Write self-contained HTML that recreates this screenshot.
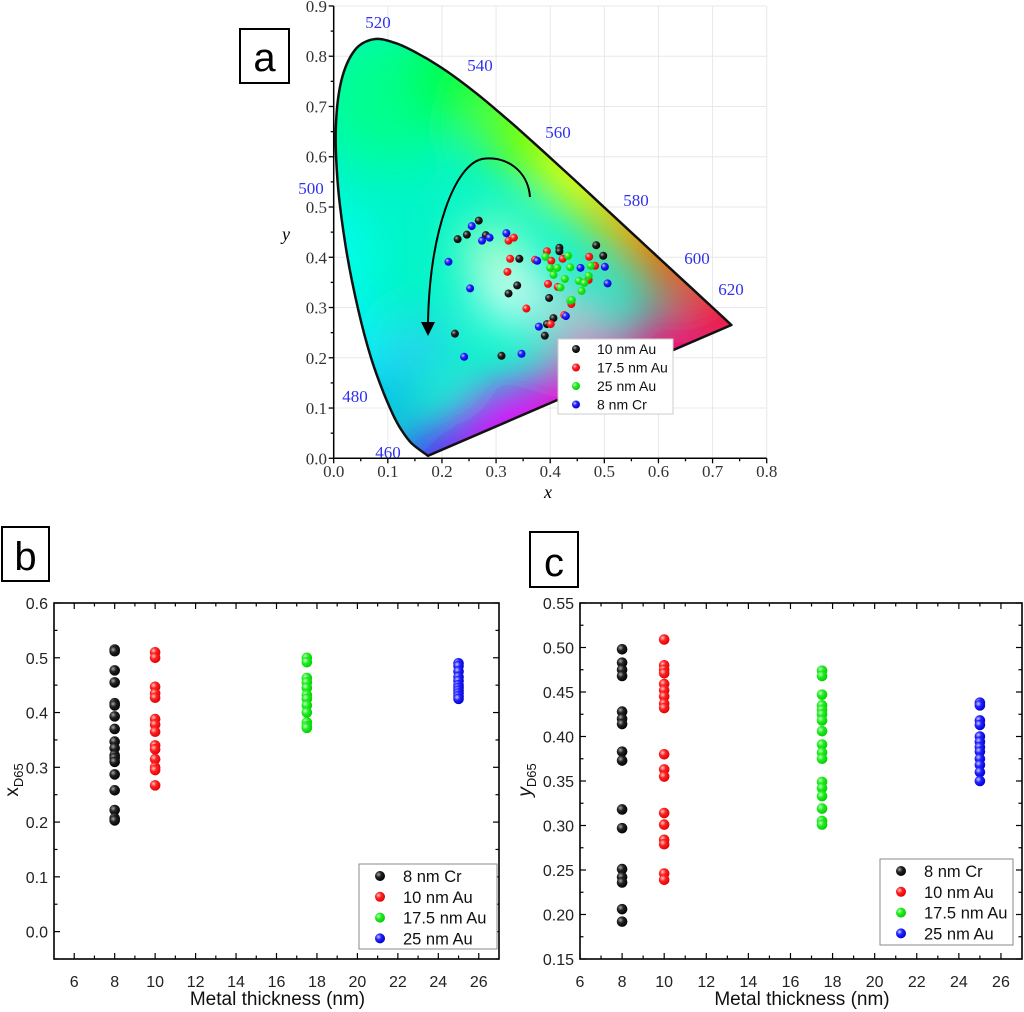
<!DOCTYPE html>
<html><head><meta charset="utf-8">
<style>
body{margin:0;background:#fff;}
svg{display:block;font-family:"Liberation Sans",sans-serif;}
.serif{font-family:"Liberation Serif",serif;}
</style></head>
<body>
<svg id="fig" width="1024" height="1012" viewBox="0 0 1024 1012" xmlns="http://www.w3.org/2000/svg">
<defs>
<filter id="blur" x="-50%" y="-50%" width="200%" height="200%"><feGaussianBlur stdDeviation="26"/></filter>
<clipPath id="locusClip"><path id="locusClipPath" d=""/></clipPath>
<radialGradient id="g-black" cx="0.35" cy="0.35" r="0.7"><stop offset="0" stop-color="#aaa"/><stop offset="0.4" stop-color="#222"/><stop offset="1" stop-color="#000"/></radialGradient>
<radialGradient id="g-red" cx="0.35" cy="0.35" r="0.7"><stop offset="0" stop-color="#fcc"/><stop offset="0.4" stop-color="#f22"/><stop offset="1" stop-color="#d00"/></radialGradient>
<radialGradient id="g-green" cx="0.35" cy="0.35" r="0.7"><stop offset="0" stop-color="#cfc"/><stop offset="0.4" stop-color="#2e2"/><stop offset="1" stop-color="#0c0"/></radialGradient>
<radialGradient id="g-blue" cx="0.35" cy="0.35" r="0.7"><stop offset="0" stop-color="#ccf"/><stop offset="0.4" stop-color="#22f"/><stop offset="1" stop-color="#00c"/></radialGradient>
</defs>
<g id="panelA"></g>
<g id="panelB"></g>
<g id="panelC"></g>
<rect x="240" y="29" width="49" height="54" fill="#fff" stroke="#000" stroke-width="2"/>
<text x="264.5" y="71" font-size="40" text-anchor="middle">a</text>
<rect x="2" y="527" width="47" height="54" fill="#fff" stroke="#000" stroke-width="2"/>
<text x="25.5" y="570" font-size="40" text-anchor="middle">b</text>
<rect x="530" y="532" width="48" height="55" fill="#fff" stroke="#000" stroke-width="2"/>
<text x="554" y="576" font-size="40" text-anchor="middle">c</text>
</svg>
<script>
// ---------- Panel A data ----------
const aBlackX=[0.268,0.229,0.246,0.281,0.343,0.417,0.417,0.485,0.498,0.339,0.323,0.398,0.406,0.394,0.390,0.224,0.310];
const aBlackY=[0.473,0.436,0.445,0.444,0.397,0.419,0.412,0.424,0.403,0.344,0.328,0.319,0.279,0.267,0.244,0.248,0.204];
const aRedX=[0.323,0.333,0.326,0.321,0.372,0.394,0.402,0.423,0.472,0.483,0.471,0.396,0.414,0.439,0.426,0.401,0.356];
const aRedY=[0.433,0.439,0.397,0.371,0.395,0.412,0.393,0.397,0.401,0.383,0.355,0.347,0.341,0.307,0.285,0.267,0.298];
const aGreenX=[0.391,0.433,0.400,0.413,0.437,0.406,0.427,0.453,0.463,0.471,0.475,0.419,0.458,0.437,0.440];
const aGreenY=[0.401,0.403,0.379,0.379,0.380,0.365,0.357,0.353,0.349,0.363,0.383,0.340,0.333,0.314,0.315];
const aBlueX=[0.255,0.274,0.288,0.319,0.376,0.212,0.252,0.456,0.501,0.506,0.429,0.379,0.241,0.347];
const aBlueY=[0.462,0.433,0.439,0.448,0.393,0.391,0.338,0.379,0.381,0.348,0.283,0.262,0.202,0.208];
const aXTicks=["0.0","0.1","0.2","0.3","0.4","0.5","0.6","0.7","0.8"];
const aYTicks=["0.0","0.1","0.2","0.3","0.4","0.5","0.6","0.7","0.8","0.9"];
const locusX=[0.1741,0.1440,0.1241,0.1096,0.0913,0.0687,0.0454,0.0235,0.0082,0.0039,0.0139,0.0389,0.0743,0.1142,0.1547,0.1929,0.2296,0.2658,0.3016,0.3373,0.3731,0.4087,0.4441,0.4788,0.5125,0.5448,0.5752,0.6029,0.6270,0.6658,0.6915,0.7190,0.7347];
const locusY=[0.0050,0.0297,0.0578,0.0868,0.1327,0.2007,0.2950,0.4127,0.5384,0.6548,0.7502,0.8120,0.8338,0.8262,0.8059,0.7816,0.7543,0.7243,0.6923,0.6589,0.6245,0.5896,0.5547,0.5202,0.4866,0.4544,0.4242,0.3965,0.3725,0.3340,0.3083,0.2809,0.2653];

// ---------- Panel B data ----------
const bCats=[8,10,17.5,25];
const bBlack=[0.515,0.512,0.477,0.455,0.417,0.413,0.393,0.370,0.347,0.335,0.322,0.317,0.310,0.287,0.258,0.222,0.207,0.203];
const bRed=[0.510,0.500,0.447,0.435,0.427,0.388,0.378,0.365,0.340,0.333,0.315,0.300,0.295,0.267];
const bGreen=[0.500,0.492,0.463,0.455,0.445,0.432,0.425,0.413,0.400,0.382,0.375,0.372];
const bBlue=[0.490,0.485,0.475,0.465,0.458,0.450,0.445,0.440,0.435,0.430,0.425];
const bXTicks=["6","8","10","12","14","16","18","20","22","24","26"];
const bYTicks=["0.0","0.1","0.2","0.3","0.4","0.5","0.6"];

// ---------- Panel C data ----------
const cCats=[8,10,17.5,25];
const cBlack=[0.498,0.483,0.475,0.468,0.428,0.420,0.414,0.383,0.373,0.318,0.297,0.251,0.242,0.236,0.206,0.192];
const cRed=[0.509,0.480,0.475,0.471,0.459,0.452,0.445,0.437,0.432,0.380,0.363,0.355,0.314,0.301,0.284,0.279,0.246,0.239];
const cGreen=[0.474,0.468,0.447,0.435,0.430,0.425,0.418,0.406,0.391,0.382,0.375,0.349,0.342,0.333,0.319,0.305,0.301];
const cBlue=[0.438,0.435,0.418,0.413,0.400,0.394,0.388,0.383,0.375,0.368,0.360,0.350];
const cXTicks=["6","8","10","12","14","16","18","20","22","24","26"];
const cYTicks=["0.15","0.20","0.25","0.30","0.35","0.40","0.45","0.50","0.55"];

const NS="http://www.w3.org/2000/svg";
function mk(tag,attrs,parent){const e=document.createElementNS(NS,tag);for(const k in attrs)e.setAttribute(k,attrs[k]);parent.appendChild(e);return e;}

// ===== Panel A =====
(function(){
const g=document.getElementById('panelA');
const X0=333.7,XS=541.25,Y0=458.3,YS=502.6;
const sx=v=>X0+v*XS, sy=v=>Y0-v*YS;
for(let i=1;i<=8;i++){const l=mk('line',{x1:sx(i/10),y1:sy(0),x2:sx(i/10),y2:sy(0.9),stroke:'#e8e8e8','stroke-width':1},g);
}
for(let i=1;i<=9;i++){const l=mk('line',{x1:sx(0),y1:sy(i/10),x2:sx(0.8),y2:sy(i/10),stroke:'#e8e8e8','stroke-width':1},g);
}
const P=locusX.map((x,i)=>[sx(x),sy(locusY[i])]);
let d='M'+P[0][0].toFixed(1)+','+P[0][1].toFixed(1);
for(let i=0;i<P.length-1;i++){const p0=P[Math.max(i-1,0)],p1=P[i],p2=P[i+1],p3=P[Math.min(i+2,P.length-1)];
const c1=[p1[0]+(p2[0]-p0[0])/6,p1[1]+(p2[1]-p0[1])/6],c2=[p2[0]-(p3[0]-p1[0])/6,p2[1]-(p3[1]-p1[1])/6];
d+='C'+c1[0].toFixed(1)+','+c1[1].toFixed(1)+' '+c2[0].toFixed(1)+','+c2[1].toFixed(1)+' '+p2[0].toFixed(1)+','+p2[1].toFixed(1);}
d+='Z';
document.getElementById('locusClipPath').setAttribute('d',d);
const fill=mk('g',{'clip-path':'url(#locusClip)'},g);

mk('path',{d:d,fill:'#00f5c8'},fill);
const blobs=fill.appendChild(document.createElementNS(NS,'g'));blobs.setAttribute('filter','url(#blur)');
const cols=[[-0.03,0.40,0.10,'#00fff0'],[0.0,0.22,0.09,'#00f0ff'],[0.10,0.72,0.13,'#00ff90'],[0.24,0.76,0.10,'#00ff40'],[0.36,0.66,0.09,'#70ff00'],[0.46,0.57,0.08,'#f0ff00'],[0.56,0.48,0.08,'#ffb000'],[0.64,0.40,0.08,'#ff5000'],[0.76,0.29,0.09,'#ff0030'],[0.62,0.18,0.10,'#ff0070'],[0.48,0.12,0.10,'#ff00c0'],[0.33,0.05,0.09,'#f000ff'],[0.22,0.00,0.06,'#9000ff'],[0.15,-0.02,0.05,'#3000ff'],[0.09,0.12,0.04,'#0060ff'],[0.16,0.22,0.05,'#40c0ff'],[0.33,0.33,0.06,'#ffffff'],[0.29,0.42,0.05,'#d0ffc0'],[0.45,0.28,0.05,'#ffb0d0']];
cols.forEach(c=>{mk('circle',{cx:sx(c[0]),cy:sy(c[1]),r:c[2]*XS,fill:c[3]},blobs);});
const lp=mk('path',{d:d,fill:'none',stroke:'#111','stroke-width':2.5,'stroke-linejoin':'round'},g);

mk('line',{x1:sx(0),y1:sy(0),x2:sx(0.8),y2:sy(0),stroke:'#000','stroke-width':1.5},g);
mk('line',{x1:sx(0),y1:sy(0),x2:sx(0),y2:sy(0.9),stroke:'#000','stroke-width':1.5},g);
for(let i=0;i<=16;i++){mk('line',{x1:sx(i/20),y1:sy(0),x2:sx(i/20),y2:sy(0)+(i%2?3:5),stroke:'#000','stroke-width':1.3},g);}
for(let i=0;i<=18;i++){mk('line',{x1:sx(0),y1:sy(i/20),x2:sx(0)-(i%2?3:5),y2:sy(i/20),stroke:'#000','stroke-width':1.3},g);}
aXTicks.forEach((t,i)=>{const e=mk('text',{x:sx(i/10),y:477,'font-size':17,'text-anchor':'middle',fill:'#333',class:'serif'},g);e.textContent=t;
});
aYTicks.forEach((t,i)=>{const e=mk('text',{x:327,y:sy(i/10)+6,'font-size':17,'text-anchor':'end',fill:'#333',class:'serif'},g);e.textContent=t;
});
let e=mk('text',{x:548,y:498,'font-size':18,'font-style':'italic','text-anchor':'middle',class:'serif'},g);e.textContent='x';

e=mk('text',{x:286,y:240,'font-size':18,'font-style':'italic','text-anchor':'middle',class:'serif'},g);e.textContent='y';

const wl=[['520',378,28],['540',480,71],['560',558,138],['580',636,206],['600',697,264],['620',731,295],['500',311,194],['480',355,402],['460',388,458]];
wl.forEach(w=>{const t=mk('text',{x:w[1],y:w[2],'font-size':17,'text-anchor':'middle',fill:'#3030ee',class:'serif'},g);t.textContent=w[0];
});
const ar=mk('path',{d:'M530,197 C528,170 505,155 482,159 C455,165 430,230 428,322',fill:'none',stroke:'#000','stroke-width':2},g);

const ah=mk('path',{d:'M421,322 L435,322 L428,336 Z',fill:'#000'},g);

const series=[[aBlackX,aBlackY,'black'],[aRedX,aRedY,'red'],[aGreenX,aGreenY,'green'],[aBlueX,aBlueY,'blue']];
series.forEach(s=>{s[0].forEach((xv,i)=>{const c=mk('circle',{cx:sx(xv),cy:sy(s[1][i]),r:4,fill:'url(#g-'+s[2]+')'},g);
});});
const lg=mk('g',{},g);
mk('rect',{x:558,y:339,width:115,height:75,fill:'#fff',stroke:'#ccc'},lg);
[['10 nm Au','black'],['17.5 nm Au','red'],['25 nm Au','green'],['8 nm Cr','blue']].forEach((L,i)=>{
const y=349+i*18.5;mk('circle',{cx:576,cy:y,r:4,fill:'url(#g-'+L[1]+')'},lg);
const t=mk('text',{x:597,y:y+5,'font-size':14,fill:'#111'},lg);t.textContent=L[0];
});
})();

function scatterPanel(gid,box,xr,yr,xTicks,xTickVals,yTicks,yTickVals,xMinor,yMinor,cats,seriesArr,legendBox,labels,yTitle){
const g=document.getElementById(gid);
const [L,T,R,B]=box;
const sx=v=>L+(v-xr[0])/(xr[1]-xr[0])*(R-L);
const sy=v=>B-(v-yr[0])/(yr[1]-yr[0])*(B-T);
const fr=mk('rect',{x:L,y:T,width:R-L,height:B-T,fill:'none',stroke:'#000','stroke-width':1.6},g);

for(let v=xMinor[0];v<=xMinor[1]+1e-9;v+=xMinor[2]){const major=xTickVals.some(m=>Math.abs(m-v)<1e-6);const len=major?6:3.5;
mk('line',{x1:sx(v),y1:B,x2:sx(v),y2:B-len,stroke:'#000','stroke-width':1.2},g);
mk('line',{x1:sx(v),y1:T,x2:sx(v),y2:T+len,stroke:'#000','stroke-width':1.2},g);}
for(let v=yMinor[0];v<=yMinor[1]+1e-9;v+=yMinor[2]){const major=yTickVals.some(m=>Math.abs(m-v)<1e-6);const len=major?6:3.5;
mk('line',{x1:L,y1:sy(v),x2:L+len,y2:sy(v),stroke:'#000','stroke-width':1.2},g);
mk('line',{x1:R,y1:sy(v),x2:R-len,y2:sy(v),stroke:'#000','stroke-width':1.2},g);}
xTicks.forEach((t,i)=>{const e=mk('text',{x:sx(xTickVals[i]),y:B+28,'font-size':16,'text-anchor':'middle',fill:'#222'},g);e.textContent=t;
});
yTicks.forEach((t,i)=>{const e=mk('text',{x:L-6,y:sy(yTickVals[i])+6,'font-size':16,'text-anchor':'end',fill:'#222'},g);e.textContent=t;
});
let e=mk('text',{x:(L+R)/2+1,y:1005,'font-size':19,'text-anchor':'middle',fill:'#111'},g);e.textContent='Metal thickness (nm)';

e=mk('text',{transform:'translate('+yTitle[0]+','+yTitle[1]+') rotate(-90)','font-size':19,'text-anchor':'middle',fill:'#111'},g);
e.innerHTML=yTitle[2]+'<tspan font-size="13" dy="5">D65</tspan>';

const names=['black','red','green','blue'];
seriesArr.forEach((vals,si)=>{vals.forEach(v=>{const c=mk('circle',{cx:sx(cats[si]),cy:sy(v),r:5.3,fill:'url(#g-'+names[si]+')'},g);
});});
const lg=mk('g',{},g);
const [lx,ly,lw,lh]=legendBox;
mk('rect',{x:lx,y:ly,width:lw,height:lh,fill:'#fff',stroke:'#888'},lg);
labels.forEach((t,i)=>{const y=ly+12+i*20.8;mk('circle',{cx:lx+21,cy:y,r:5,fill:'url(#g-'+names[i]+')'},lg);
const tx=mk('text',{x:lx+44,y:y+6,'font-size':16.5,fill:'#111'},lg);tx.textContent=t;
});
}
scatterPanel('panelB',[54,603,499,959],[5,27],[-0.05,0.6],bXTicks,bXTicks.map(Number),bYTicks,bYTicks.map(Number),
 [6,26,1],[-0.05,0.6,0.05],bCats,[bBlack,bRed,bGreen,bBlue],[359,864,138,85],['8 nm Cr','10 nm Au','17.5 nm  Au','25 nm Au'],[18,780,'x']);
scatterPanel('panelC',[580,603,1022,959],[6,27],[0.15,0.55],cXTicks,cXTicks.map(Number),cYTicks,cYTicks.map(Number),
 [6,26,1],[0.15,0.55,0.025],cCats,[cBlack,cRed,cGreen,cBlue],[880,859,133,86],['8 nm Cr','10 nm Au','17.5 nm Au','25 nm Au'],[531,780,'<tspan font-style="italic">y</tspan>']);
</script>
</body></html>
